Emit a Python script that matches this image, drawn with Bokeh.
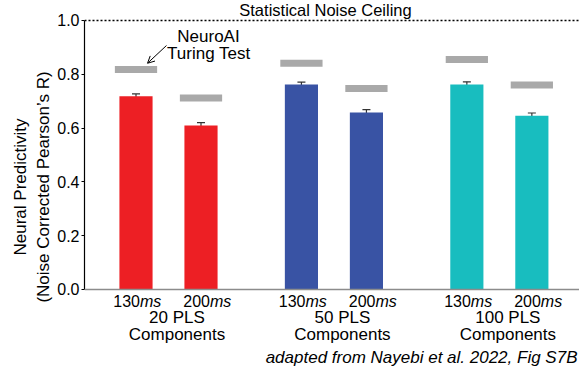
import math
from bokeh.plotting import figure
from bokeh.models import (Range1d, FixedTicker, Span, Label, Whisker, ColumnDataSource,
                          Arrow, OpenHead, TeeHead, Title)
from bokeh.embed import file_html
from bokeh.resources import INLINE

# ---- data ----
group_names = ["20 PLS", "50 PLS", "100 PLS"]
group_sub = "Components"
time_labels = ["130", "200"]
time_unit = "ms"
group_colors = ["#ED1F24", "#3953A4", "#18BDBF"]
model_r = [0.718, 0.610, 0.762, 0.658, 0.762, 0.646]
model_err = [0.009, 0.010, 0.009, 0.011, 0.010, 0.010]
turing_test = [0.818, 0.712, 0.841, 0.747, 0.855, 0.760]
noise_ceiling = 1.0
y_ticks = [0.0, 0.2, 0.4, 0.6, 0.8, 1.0]

FONT = "Liberation Sans"
GROUP_STEP = 2.545

xs, cols, tlabs = [], [], []
for gi in range(len(group_names)):
    for ti in range(len(time_labels)):
        xs.append(gi * GROUP_STEP + ti)
        cols.append(group_colors[gi])
        tlabs.append(time_labels[ti])

src = ColumnDataSource(dict(
    x=xs, top=model_r, color=cols,
    upper=[v + e for v, e in zip(model_r, model_err)],
    lower=[v - e for v, e in zip(model_r, model_err)],
    tt=turing_test,
))

p = figure(width=579, height=373, output_backend="svg", toolbar_location=None,
           x_range=Range1d(-0.7923, 6.823), y_range=Range1d(-0.3123, 1.0743),
           min_border_left=84, min_border_right=0, min_border_top=0, min_border_bottom=0)
p.outline_line_color = None
p.grid.visible = False
p.background_fill_color = "white"
p.border_fill_color = "white"

# axes
p.xaxis.visible = False
p.yaxis.bounds = (0, 1)
p.yaxis.ticker = FixedTicker(ticks=y_ticks)
p.yaxis.major_label_overrides = {t: f"{t:.1f}" for t in y_ticks}
p.yaxis.major_label_text_font = FONT
p.yaxis.major_label_text_font_size = "16px"
p.yaxis.major_label_text_color = "black"
p.yaxis.axis_line_color = "black"
p.yaxis.axis_line_width = 1.2
p.yaxis.major_tick_in = 0
p.yaxis.major_tick_out = 3
p.yaxis.minor_tick_line_color = None
p.yaxis.major_label_standoff = 2

# y label (two lines)
p.add_layout(Title(text="(Noise Corrected Pearson\u2019s R)", align="center", offset=24,
                   standoff=3, text_font=FONT, text_font_size="17px",
                   text_font_style="normal", text_color="black"), "left")
p.add_layout(Title(text="Neural Predictivity", align="center", offset=24,
                   standoff=1, text_font=FONT, text_font_size="17px",
                   text_font_style="normal", text_color="black"), "left")

# baseline at zero
p.add_layout(Span(location=0, dimension="width", line_color="#8c8c8c", line_width=1.3))

# bars
p.vbar(x="x", top="top", bottom=0, width=0.51, color="color", line_color=None, source=src)
# turing test markers
p.rect(x="x", y="tt", width=0.65, height=7, height_units="screen",
       fill_color="#A9A9A9", line_color=None, source=src)
# error bars
p.add_layout(Whisker(base="x", upper="upper", lower="lower", source=src,
                     line_color="#333333", line_width=1.2,
                     upper_head=TeeHead(size=8, line_color="#333333", line_width=1.2),
                     lower_head=TeeHead(size=8, line_color="#333333", line_width=1.2)))

# noise ceiling
p.add_layout(Span(location=noise_ceiling, dimension="width", line_color="black",
                  line_width=1.5, line_dash="2 2"))
p.add_layout(Label(x=2.915, y=noise_ceiling, y_offset=1,
                   text="Statistical Noise Ceiling", text_align="center",
                   text_baseline="bottom", text_font=FONT, text_font_size="16.5px",
                   text_color="black"))

# annotation
p.add_layout(Label(x=1.115, y=0.94, text="NeuroAI", text_align="center",
                   text_baseline="middle", text_font=FONT, text_font_size="17px",
                   text_color="black"))
p.add_layout(Label(x=1.12, y=0.877, text="Turing Test", text_align="center",
                   text_baseline="middle", text_font=FONT, text_font_size="17px",
                   text_color="black"))
p.add_layout(Arrow(x_start=0.469, y_start=0.907, x_end=0.177, y_end=0.841,
                   line_color="black", line_width=1,
                   end=OpenHead(size=7, line_color="black", line_width=1)))

# x tick labels (number + italic unit)
for x, t in zip(xs, tlabs):
    s = 4 if t == "130" else 9
    p.add_layout(Label(x=x, y=0, x_offset=s, y_offset=-12, text=t, text_align="right",
                       text_baseline="middle", text_font=FONT, text_font_size="16px",
                       text_color="black"))
    p.add_layout(Label(x=x, y=0, x_offset=s, y_offset=-12, text=time_unit, text_align="left",
                       text_baseline="middle", text_font=FONT, text_font_size="16px",
                       text_font_style="italic", text_color="black"))

# group labels
for gi, g in enumerate(group_names):
    gx = sum(xs[gi * 2: gi * 2 + 2]) / 2
    p.add_layout(Label(x=gx, y=0, x_offset=8.5, y_offset=-28, text=g, text_align="center",
                       text_baseline="middle", text_font=FONT, text_font_size="17px",
                       text_color="black"))
    p.add_layout(Label(x=gx, y=0, x_offset=8.5, y_offset=-45, text=group_sub,
                       text_align="center", text_baseline="middle", text_font=FONT,
                       text_font_size="17px", text_color="black"))

# caption
p.add_layout(Label(x=6.792, y=0, y_offset=-68,
                   text="adapted from Nayebi et al. 2022, Fig S7B", text_align="right",
                   text_baseline="middle", text_font=FONT, text_font_size="17px",
                   text_font_style="italic", text_color="black"))

open("out.html", "w").write(file_html(p, INLINE))
